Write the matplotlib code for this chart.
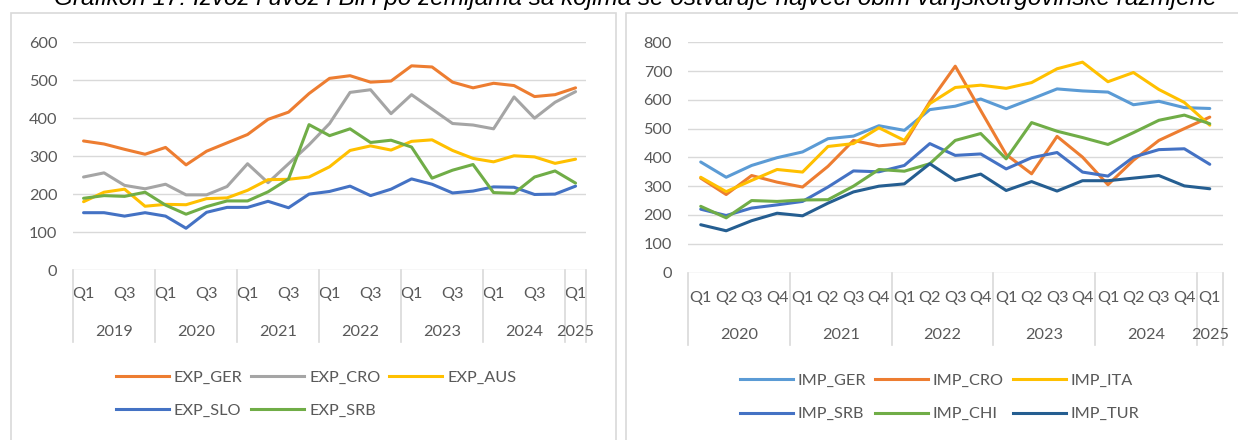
import numpy as np
import matplotlib
matplotlib.use("Agg")
from matplotlib import pyplot as plt
from matplotlib.patches import Rectangle
from matplotlib.lines import Line2D

# podaci - izvoz (2019 Q1 - 2025 Q1)
godine_exp = ["2019", "2020", "2021", "2022", "2023", "2024", "2025"]
kvartali = ["Q1", "Q2", "Q3", "Q4"]

EXP_GER = [340, 332, 318, 305, 323, 277, 313, 335, 357, 397, 416, 465, 505, 512, 495, 498, 538, 535, 495, 480, 492, 486, 457, 462, 480]
EXP_CRO = [245, 256, 223, 214, 226, 198, 198, 220, 280, 230, 280, 330, 386, 468, 475, 412, 462, 424, 386, 382, 372, 456, 400, 442, 470]
EXP_AUS = [180, 205, 213, 168, 173, 172, 188, 190, 210, 238, 239, 245, 272, 315, 327, 316, 339, 343, 315, 294, 285, 301, 298, 281, 292]
EXP_SLO = [151, 151, 142, 151, 142, 110, 152, 165, 165, 181, 164, 200, 207, 221, 196, 213, 240, 226, 203, 208, 219, 218, 199, 200, 221]
EXP_SRB = [189, 196, 194, 205, 171, 147, 167, 182, 182, 206, 240, 383, 354, 372, 336, 342, 324, 242, 263, 278, 204, 202, 245, 261, 229]

# podaci - uvoz (2020 Q1 - 2025 Q1)
godine_imp = ["2020", "2021", "2022", "2023", "2024", "2025"]

IMP_GER = [384, 331, 372, 399, 419, 465, 474, 510, 494, 566, 578, 603, 569, 603, 638, 631, 627, 583, 595, 573, 570]
IMP_CRO = [328, 271, 337, 314, 297, 369, 459, 440, 448, 593, 717, 563, 410, 343, 473, 401, 305, 390, 459, 500, 540]
IMP_ITA = [331, 281, 320, 358, 349, 438, 448, 503, 459, 587, 643, 651, 640, 660, 708, 731, 663, 695, 636, 591, 512]
IMP_SRB = [220, 198, 224, 235, 247, 297, 353, 350, 372, 448, 407, 412, 360, 399, 417, 349, 335, 401, 427, 430, 376]
IMP_CHI = [230, 190, 250, 247, 252, 253, 300, 358, 352, 378, 459, 483, 395, 521, 491, 469, 445, 486, 529, 547, 517]
IMP_TUR = [166, 145, 180, 206, 197, 241, 280, 300, 308, 378, 320, 342, 285, 316, 283, 319, 319, 328, 337, 301, 291]

exp_serije = [("EXP_GER", EXP_GER, "#ED7D31"), ("EXP_CRO", EXP_CRO, "#A5A5A5"),
              ("EXP_AUS", EXP_AUS, "#FFC000"), ("EXP_SLO", EXP_SLO, "#4472C4"),
              ("EXP_SRB", EXP_SRB, "#70AD47")]
imp_serije = [("IMP_GER", IMP_GER, "#5B9BD5"), ("IMP_CRO", IMP_CRO, "#ED7D31"),
              ("IMP_ITA", IMP_ITA, "#FFC000"), ("IMP_SRB", IMP_SRB, "#4472C4"),
              ("IMP_CHI", IMP_CHI, "#70AD47"), ("IMP_TUR", IMP_TUR, "#255E91")]

plt.rcParams['font.family'] = ['Lato', 'DejaVu Sans']
siva = "#595959"
mreza = "#D9D9D9"
fs = 11.7

W, H = 1238, 440
fig = plt.figure(figsize=(W / 100, H / 100), dpi=100)

# okviri grafikona
fig.patches.append(Rectangle((11 / W, -0.05), (616 - 11) / W, 1 - 12.7 / H + 0.05,
                             transform=fig.transFigure, fill=False, ec=mreza, lw=1.2))
fig.patches.append(Rectangle((626 / W, -0.05), (W + 20 - 626) / W, 1 - 12.7 / H + 0.05,
                             transform=fig.transFigure, fill=False, ec=mreza, lw=1.2))

# naslov je u originalu odsjecen na vrhu slike
fig.text(635 / W, 1 - 5 / H, "Grafikon 17: Izvoz i uvoz i BiH po zemljama sa kojima se ostvaruje najveći obim vanjskotrgovinske razmjene",
         ha='center', va='baseline', fontsize=17.5, style='italic',
         family=['Liberation Sans', 'DejaVu Sans'], color='black')


def crtaj(ax, serije, godine, prvi_kv, ymax, korak, svaki, rez, pad_x):
    n = len(serije[0][1])
    x = np.arange(n)
    for ime, vr, boja in serije:
        ax.plot(x, vr, color=boja, lw=2.2, label=ime, solid_capstyle='round', zorder=3)
    ax.set_xlim(-0.5, n - 0.5)
    ax.set_ylim(0, ymax)
    ax.set_yticks(np.arange(0, ymax + 1, korak))
    ax.yaxis.grid(True, color=mreza, lw=1.0)
    ax.set_axisbelow(True)
    for s in ax.spines.values():
        s.set_visible(False)
    # oznake kvartala
    oznake = [kvartali[(prvi_kv + i) % 4] if i % svaki == 0 else "" for i in range(n)]
    ax.set_xticks(x)
    ax.set_xticklabels(oznake)
    ax.tick_params(axis='both', length=0, colors=siva, labelsize=fs)
    ax.tick_params(axis='y', pad=11.5)
    ax.tick_params(axis='x', pad=pad_x)
    # razdjelnici godina i oznake godina
    tr = ax.get_xaxis_transform()
    granice = list(np.arange(-0.5, n, 4)) + [n - 0.5]
    for g in granice:
        ax.plot([g, g], [0, rez], color=mreza, lw=1.2, transform=tr, clip_on=False)
    for k, god in enumerate(godine):
        lo = -0.5 + 4 * k
        hi = min(lo + 4, n - 0.5)
        ax.text((lo + hi) / 2, rez * 0.86, god, transform=tr, ha='center', va='center',
                fontsize=fs, color=siva)


ax1 = fig.add_axes([73.3 / W, (H - 270) / H, 512.5 / W, 227.7 / H])
crtaj(ax1, exp_serije, godine_exp, 0, 600, 100, 2, -0.316, 12)

ax2 = fig.add_axes([688 / W, (H - 272.5) / H, 534.5 / W, 230.2 / H])
crtaj(ax2, imp_serije, godine_imp, 0, 800, 100, 1, -0.315, 13)


def legenda(serije, red, cx, cy):
    ruke = []
    for i in red:
        ime, vr, boja = serije[i]
        ruke.append(Line2D([], [], color=boja, lw=2.2, label=ime))
    lg = fig.legend(handles=ruke, loc='center', bbox_to_anchor=(cx / W, 1 - cy / H),
                    ncol=3, frameon=False, fontsize=fs, handlelength=3.26,
                    handletextpad=0.3, columnspacing=0.55, labelspacing=1.15,
                    borderpad=0, labelcolor=siva)
    return lg


legenda(exp_serije, [0, 3, 1, 4, 2], 316, 394)
legenda(imp_serije, [0, 3, 1, 4, 2, 5], 939.5, 397.5)

plt.savefig("out.png", dpi=100)
plt.close()
